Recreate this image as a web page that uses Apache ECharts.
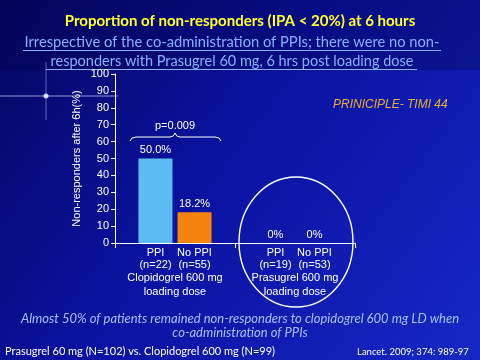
<!DOCTYPE html>
<html><head><meta charset="utf-8">
<script src="https://cdn.jsdelivr.net/npm/echarts@6/dist/echarts.min.js"></script>
<style>html,body{margin:0;padding:0;background:#0a0f90}#c{width:480px;height:360px}</style>
</head><body><div id="c"></div>
<script>
var groups = ['Clopidogrel 600 mg', 'Prasugrel 600 mg'];
var groupSub = ['loading dose', 'loading dose'];
var ppiValues = [50.0, 0];
var noPpiValues = [18.2, 0];
var ppiN = [22, 19];
var noPpiN = [55, 53];
var yTicks = {min: 0, max: 100, interval: 10};

var chart = echarts.init(document.getElementById('c'));
var labelFmt = function (p) { return p.value === 0 ? '0%' : p.value.toFixed(1) + '%'; };
var font = 'Liberation Sans, Arial, sans-serif';
var titleFont = 'Lato, Open Sans, sans-serif';
function txt(x, y, text, color, size, extra) {
  var s = {text: text, fill: color, fontSize: size, fontFamily: (extra && extra.family) || titleFont,
    fontWeight: (extra && extra.weight) || 'normal', fontStyle: (extra && extra.style) || 'normal',
    textAlign: (extra && extra.align) || 'left', textVerticalAlign: 'middle'};
  return {type: 'text', x: x, y: y, style: s, z: 10};
}
function bz(x1, y1, cx, cy, x2, y2) {
  return {type: 'bezierCurve', shape: {x1: x1, y1: y1, cpx1: cx, cpy1: cy, x2: x2, y2: y2}, style: {stroke: '#ffffff', fill: null, lineWidth: 1}};
}
function ln(x1, y1, x2, y2, color, w) {
  return {type: 'line', shape: {x1: x1, y1: y1, x2: x2, y2: y2}, style: {stroke: color, lineWidth: w || 1}};
}

chart.setOption({
  backgroundColor: {type: 'linear', x: 0, y: 0, x2: 1, y2: 1, colorStops: [
    {offset: 0, color: '#06065e'}, {offset: 0.45, color: '#0a12a0'}, {offset: 1, color: '#1628c4'}]},
  animation: false,
  grid: {left: 115, right: 125, top: 74, bottom: 117},
  xAxis: {
    type: 'category', data: groups,
    axisLine: {lineStyle: {color: '#ffffff', width: 1}},
    axisTick: {show: true, length: 5, lineStyle: {color: '#ffffff'}},
    axisLabel: {
      interval: 0,
      color: '#ffffff', fontFamily: font, fontSize: 11, margin: 4, lineHeight: 13,
      formatter: function (v, i) {
        return '{a|PPI}{a|No PPI}\n{a|(n=' + ppiN[i] + ')}{a|(n=' + noPpiN[i] + ')}\n{b|' + groups[i] + '}\n{b|' + groupSub[i] + '}';
      },
      rich: {
        a: {width: 39, align: 'center', color: '#ffffff', fontSize: 11, fontFamily: font, lineHeight: 12},
        b: {color: '#ffffff', fontSize: 11, fontFamily: font, lineHeight: 14}
      }
    }
  },
  yAxis: {
    type: 'value', min: yTicks.min, max: yTicks.max, interval: yTicks.interval,
    name: 'Non-responders after 6h(%)', nameLocation: 'middle', nameGap: 33,
    nameTextStyle: {color: '#ffffff', fontFamily: font, fontSize: 11},
    axisLine: {show: true, lineStyle: {color: '#ffffff'}},
    axisTick: {show: true, length: 4, lineStyle: {color: '#ffffff'}},
    axisLabel: {color: '#ffffff', fontFamily: font, fontSize: 11, margin: 6},
    splitLine: {show: false}
  },
  series: [
    {name: 'PPI', type: 'bar', data: ppiValues, barWidth: 34, barGap: '15%',
      itemStyle: {color: '#5cbcf2'},
      label: {show: true, position: 'top', color: '#ffffff', fontFamily: font, fontSize: 11, distance: 3, formatter: labelFmt}},
    {name: 'No PPI', type: 'bar', data: noPpiValues, barWidth: 34,
      itemStyle: {color: '#f6840e'},
      label: {show: true, position: 'top', color: '#ffffff', fontFamily: font, fontSize: 11, distance: 3, formatter: labelFmt}}
  ],
  graphic: [
    {type: 'rect', shape: {x: 0, y: 0, width: 480, height: 70}, style: {fill: 'rgba(4,4,80,0.35)'}, z: -1, silent: true},
    ln(0, 96, 118, 96, 'rgba(200,210,255,0.7)'),
    ln(46, 62, 46, 120, 'rgba(200,210,255,0.45)'),
    {type: 'circle', shape: {cx: 46, cy: 96, r: 2.5}, style: {fill: 'rgba(255,255,255,0.8)'}},
    txt(240, 21, 'Proportion of non-responders (IPA < 20%) at 6 hours', '#ffff33', 15, {weight: 'bold', align: 'center'}),
    txt(232, 42, 'Irrespective of the co-administration of PPIs; there were no non-', '#8ab0ff', 14.7, {align: 'center'}),
    txt(232, 61, 'responders with Prasugrel 60 mg, 6 hrs post loading dose', '#8ab0ff', 14.5, {align: 'center'}),
    ln(23, 50.5, 441, 50.5, '#8ab0ff'),
    ln(46, 69.5, 417, 69.5, '#8ab0ff'),
    txt(333, 105, 'PRINICIPLE- TIMI 44', '#e8b030', 12, {style: 'italic', family: font}),
    bz(130, 141, 131, 137, 136, 137),
    ln(136, 137, 170, 137, '#ffffff'),
    bz(170, 137, 174, 137, 175, 133),
    bz(175, 133, 176, 137, 180, 137),
    ln(180, 137, 215, 137, '#ffffff'),
    bz(215, 137, 220, 137, 221, 141),
    txt(175, 126, 'p=0.009', '#ffffff', 11, {family: font, align: 'center'}),
    {type: 'circle', x: 296, y: 242, scaleY: 65 / 57, shape: {cx: 0, cy: 0, r: 57}, style: {stroke: '#ffffff', fill: null, lineWidth: 1.4}},
    txt(240, 319, 'Almost 50% of patients remained non-responders to clopidogrel 600 mg LD when', '#a8c0ff', 13, {style: 'italic', align: 'center'}),
    txt(240, 333, 'co-administration of PPIs', '#a8c0ff', 13, {style: 'italic', align: 'center'}),
    txt(5, 351, 'Prasugrel 60 mg (N=102) vs. Clopidogrel 600 mg (N=99)', '#ffffff', 11, {}),
    txt(357, 352, 'Lancet. 2009; 374: 989-97', '#ffffff', 9.5, {})
  ]
});
</script></body></html>
